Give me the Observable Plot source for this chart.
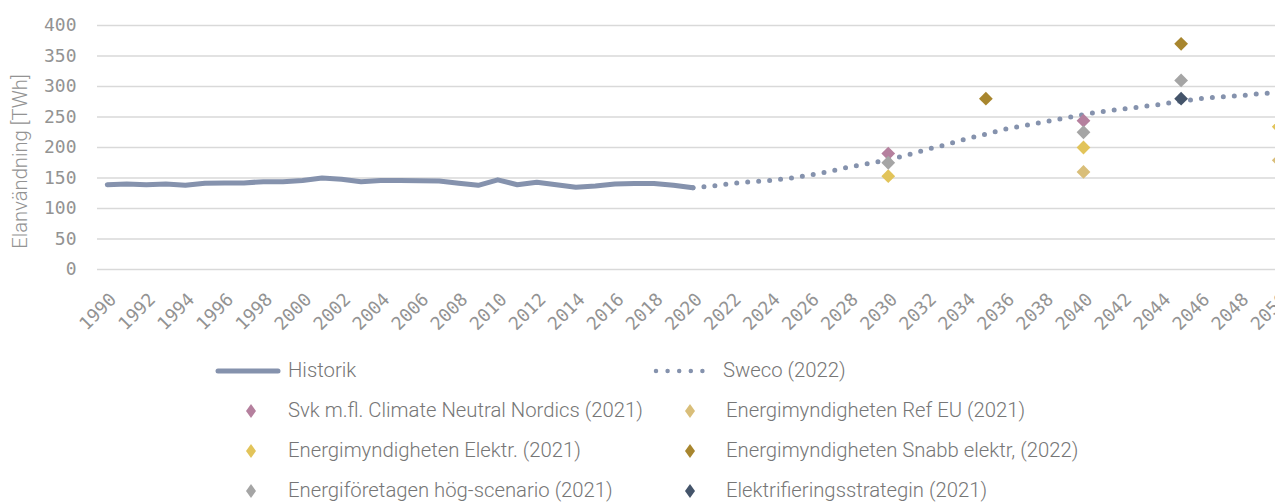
<!DOCTYPE html>
<html>
<head>
<meta charset="utf-8">
<script src="https://cdn.jsdelivr.net/npm/d3@7"></script>
<script src="https://cdn.jsdelivr.net/npm/@observablehq/plot@0.6"></script>
<style>
  html, body { margin: 0; padding: 0; background: #fff; overflow: hidden; width: 1275px; height: 502px; }
  #chart { position: absolute; left: 0; top: 0; }
  .leg { position: absolute; font-family: "Roboto", sans-serif; font-weight: 300; font-size: 20.3px; color: #767676; white-space: nowrap; line-height: 1; }
  .sw { position: absolute; }
</style>
</head>
<body>
<div id="chart"></div>
<div id="legend"></div>
<script>
// ---- data ----
const histYears = [1990,1991,1992,1993,1994,1995,1996,1997,1998,1999,2000,2001,2002,2003,2004,2005,2006,2007,2008,2009,2010,2011,2012,2013,2014,2015,2016,2017,2018,2019,2020];
const histValues = [139,140,139,140,138,141.5,142,142,144,144,146,150,148,144,146,146,145.5,145,141.5,138,147,139,143,139,135,137,140,141,141,138,134];

const swecoYears = [2020,2021,2022,2023,2024,2025,2026,2027,2028,2029,2030,2031,2032,2033,2034,2035,2036,2037,2038,2039,2040,2041,2042,2043,2044,2045,2046,2047,2048,2049,2050];
const swecoValues = [134,137,141,144,146,150,155,161,168,174,180,188,197,205,214,222,230,236,242,248,254,259,263,267,271,276,280,283,285,288,290];

const svkYears = [2030, 2040];            const svkValues = [190, 244];
const refEuYears = [2040, 2050];          const refEuValues = [160, 179];
const elektrYears = [2030, 2040, 2050];   const elektrValues = [153, 200, 234];
const snabbYears = [2035, 2045];          const snabbValues = [280, 370];
const efYears = [2030, 2040, 2045];       const efValues = [175, 225, 310];
const strategiYears = [2045];             const strategiValues = [280];

const seriesNames = [
  "Svk m.fl. Climate Neutral Nordics (2021)",
  "Energimyndigheten Ref EU (2021)",
  "Energimyndigheten Elektr. (2021)",
  "Energimyndigheten Snabb elektr, (2022)",
  "Energiföretagen hög-scenario (2021)",
  "Elektrifieringsstrategin (2021)"
];
const seriesColors = ["#b5809e", "#d9be79", "#e2c45a", "#a8862e", "#a5a5a5", "#44546a"];
const lineNames = ["Historik", "Sweco (2022)"];
const lineColor = "#8592ad";

const yTicks = [0, 50, 100, 150, 200, 250, 300, 350, 400];
const xTicks = ["1990","1992","1994","1996","1998","2000","2002","2004","2006","2008","2010","2012","2014","2016","2018","2020","2022","2024","2026","2028","2030","2032","2034","2036","2038","2040","2042","2044","2046","2048","2050"];
const yLabel = "Elanvändning [TWh]";

// ---- tables ----
const hist = histYears.map((x, i) => ({x, y: histValues[i]}));
const sweco = swecoYears.map((x, i) => ({x, y: swecoValues[i]}));
const scen = [
  [svkYears, svkValues], [refEuYears, refEuValues], [elektrYears, elektrValues],
  [snabbYears, snabbValues], [efYears, efValues], [strategiYears, strategiValues]
].flatMap(([ys, vs], s) => ys.map((x, i) => ({x, y: vs[i], s: seriesNames[s]})));

const tickFont = "'DejaVu Sans Mono', monospace";
const tickColor = "#939393";
const chart = Plot.plot({
  width: 1275,
  height: 345,
  marginLeft: 97,
  marginRight: 0,
  marginTop: 25,
  marginBottom: 76,
  style: {background: "transparent", overflow: "hidden"},
  x: {type: "linear", domain: [1989.5, 2050.5], range: [97, 1288], axis: null},
  y: {domain: [0, 400], axis: null},
  color: {domain: seriesNames, range: seriesColors},
  marks: [
    Plot.ruleY(yTicks, {stroke: "#d9d9d9", strokeWidth: 1.5}),
    Plot.text(yTicks, {y: d => d, text: d => String(d), frameAnchor: "left", dx: -21, textAnchor: "end", fontSize: 18, fill: tickColor, fontFamily: tickFont}),
    Plot.text(xTicks, {x: d => +d, text: d => d, frameAnchor: "bottom", rotate: -45, textAnchor: "end", lineAnchor: "middle", dx: 6, dy: 27, fontSize: 18, fill: tickColor, fontFamily: tickFont}),
    Plot.text([yLabel], {frameAnchor: "left", dx: -77, dy: 14, rotate: -90, textAnchor: "middle", lineAnchor: "middle", fontSize: 20.2, fill: tickColor, fontFamily: "Roboto, sans-serif", fontWeight: 300}),
    Plot.line(hist, {x: "x", y: "y", stroke: lineColor, strokeWidth: 5, strokeLinejoin: "round", strokeLinecap: "round"}),
    Plot.line(sweco, {x: "x", y: "y", stroke: lineColor, strokeWidth: 5, strokeDasharray: "0 11", strokeLinecap: "round", curve: "monotone-x"}),
    Plot.dot(scen, {x: "x", y: "y", fill: "s", symbol: "diamond2", r: 6.2})
  ]
});
document.getElementById("chart").appendChild(chart);

// ---- legend (HTML) ----
const legend = document.getElementById("legend");
const legItems = [
  {type: "line", label: lineNames[0], sx: 218, tx: 288, y: 371},
  {type: "dots", label: lineNames[1], sx: 656, tx: 723, y: 371},
  ...seriesNames.map((n, i) => ({type: "diamond", label: n, color: seriesColors[i], sx: i % 2 ? 690 : 251, tx: i % 2 ? 726 : 288, y: 411 + 40 * Math.floor(i / 2)}))
];
for (const it of legItems) {
  const ns = "http://www.w3.org/2000/svg";
  const svg = document.createElementNS(ns, "svg");
  svg.setAttribute("class", "sw");
  if (it.type === "line" || it.type === "dots") {
    svg.setAttribute("width", 66); svg.setAttribute("height", 10);
    svg.style.left = (it.sx - 3) + "px"; svg.style.top = (it.y - 5) + "px";
    const l = document.createElementNS(ns, "line");
    l.setAttribute("x1", 3); l.setAttribute("x2", it.type === "line" ? 63 : 61);
    l.setAttribute("y1", 5); l.setAttribute("y2", 5);
    l.setAttribute("stroke", lineColor); l.setAttribute("stroke-width", it.type === "line" ? 5 : 4.5);
    l.setAttribute("stroke-linecap", "round");
    if (it.type === "dots") l.setAttribute("stroke-dasharray", "0 11.6");
    svg.appendChild(l);
  } else {
    svg.setAttribute("width", 14); svg.setAttribute("height", 18);
    svg.style.left = (it.sx - 7) + "px"; svg.style.top = (it.y - 9) + "px";
    const p = document.createElementNS(ns, "path");
    p.setAttribute("d", "M7,2 L12,9 L7,16 L2,9 Z");
    p.setAttribute("fill", it.color);
    svg.appendChild(p);
  }
  legend.appendChild(svg);
  const t = document.createElement("div");
  t.className = "leg";
  t.textContent = it.label;
  t.style.left = it.tx + "px";
  t.style.top = (it.y - 11) + "px";
  legend.appendChild(t);
}
</script>
</body>
</html>
